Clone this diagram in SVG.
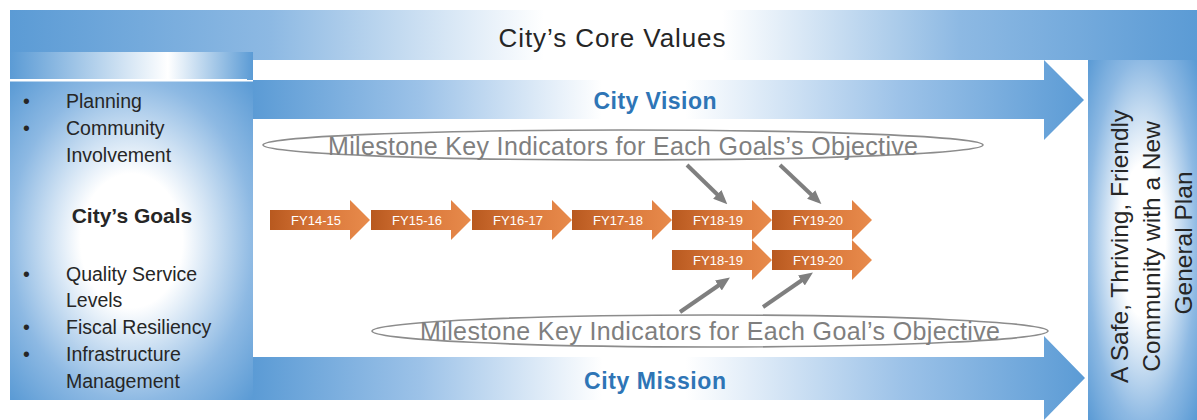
<svg xmlns="http://www.w3.org/2000/svg" width="1197" height="420" viewBox="0 0 1197 420">
<defs>
<linearGradient id="gTop" x1="0" y1="0" x2="1" y2="0">
<stop offset="0" stop-color="#5B9BD5"/><stop offset="0.22" stop-color="#8DB9E3"/><stop offset="0.45" stop-color="#FFFFFF"/><stop offset="0.6" stop-color="#FFFFFF"/><stop offset="0.8" stop-color="#8DB9E3"/><stop offset="1" stop-color="#5B9BD5"/>
</linearGradient>
<linearGradient id="gArrow" x1="0" y1="0" x2="1" y2="0">
<stop offset="0" stop-color="#5B9BD5"/><stop offset="0.2" stop-color="#9CC2E8"/><stop offset="0.42" stop-color="#FFFFFF"/><stop offset="0.52" stop-color="#FFFFFF"/><stop offset="0.78" stop-color="#9CC2E8"/><stop offset="1" stop-color="#5B9BD5"/>
</linearGradient>
<linearGradient id="gBand" x1="0" y1="0" x2="1" y2="0">
<stop offset="0" stop-color="#5B9BD5"/><stop offset="0.65" stop-color="#FFFFFF"/><stop offset="1" stop-color="#5B9BD5"/>
</linearGradient>
<radialGradient id="gPanel" cx="0.5" cy="0.5" r="0.7">
<stop offset="0" stop-color="#FFFFFF"/><stop offset="0.3" stop-color="#FFFFFF"/><stop offset="0.72" stop-color="#8DB9E3"/><stop offset="1" stop-color="#5B9BD5"/>
</radialGradient>
<linearGradient id="gOrange" x1="0" y1="0" x2="1" y2="0">
<stop offset="0" stop-color="#B8591F"/><stop offset="0.5" stop-color="#D9773A"/><stop offset="1" stop-color="#E88B4C"/>
</linearGradient>
<marker id="ah" markerUnits="userSpaceOnUse" markerWidth="14" markerHeight="12" refX="8" refY="6" orient="auto">
<path d="M0,0 L14,6 L0,12 z" fill="#7F7F7F"/>
</marker>
<style>
.lbl{font-family:"Liberation Sans",Arial,sans-serif;fill:#262626}
.side{font-size:19.5px}
.blue{font-family:"Liberation Sans",Arial,sans-serif;font-weight:bold;fill:#2E75B6;font-size:23px}
.ms{font-family:"Liberation Sans",Arial,sans-serif;fill:#7F7F7F;font-size:25px}
.ell{fill:#FFFFFF;stroke:#8C8C8C;stroke-width:1.6}
.fy{fill:url(#gOrange)}
.fyt{font-family:"Liberation Sans",Arial,sans-serif;fill:#FFFFFF;font-size:13px;text-anchor:middle}
.conn{stroke:#7F7F7F;stroke-width:4;fill:none;marker-end:url(#ah)}
</style>
</defs>
<rect width="1197" height="420" fill="#FFFFFF"/>

<g id="core-values">
<rect x="10" y="10" width="1187" height="50" fill="url(#gTop)"/>
<text class="lbl" x="612" y="47" font-size="26" text-anchor="middle" textLength="227">City’s Core Values</text>
</g>

<g id="city-vision">
<path d="M253,80 H1044 V60 L1084,100 L1044,140 V119 H253 Z" fill="url(#gArrow)"/>
<text class="blue" x="655" y="109" text-anchor="middle" textLength="123">City Vision</text>
</g>

<g id="city-mission">
<path d="M253,357 H1044 V336 L1085,378 L1044,420 V400 H253 Z" fill="url(#gArrow)"/>
<text class="blue" x="655" y="389" text-anchor="middle" textLength="142">City Mission</text>
</g>

<g id="city-goals">
<rect x="10" y="52" width="243" height="28" fill="url(#gBand)"/>
<rect x="10" y="79" width="237" height="2.5" fill="#FFFFFF"/>
<rect x="10" y="81.5" width="243" height="318.5" fill="url(#gPanel)"/>
<g class="lbl side">
<text x="23" y="108">•</text><text x="66" y="108">Planning</text>
<text x="23" y="135">•</text><text x="66" y="135">Community</text>
<text x="66" y="162">Involvement</text>
<text x="23" y="281">•</text><text x="66" y="281">Quality Service</text>
<text x="66" y="307">Levels</text>
<text x="23" y="334">•</text><text x="66" y="334">Fiscal Resiliency</text>
<text x="23" y="361">•</text><text x="66" y="361">Infrastructure</text>
<text x="66" y="388">Management</text>
</g>
<text class="lbl" x="132" y="223" font-size="21" font-weight="bold" text-anchor="middle">City’s Goals</text>
</g>

<g id="outcome">
<rect x="1088" y="60" width="109" height="360" fill="url(#gPanel)"/>
<text class="lbl" transform="rotate(-90)" font-size="24.5" text-anchor="middle">
<tspan x="-243" y="1128">A Safe, Thriving, Friendly</tspan>
<tspan x="-243" y="1160">Community with a New</tspan>
<tspan x="-243" y="1192">General Plan</tspan>
</text>
</g>

<g id="milestone-top">
<ellipse class="ell" cx="623" cy="145" rx="360" ry="15"/>
<text class="ms" x="623" y="155" text-anchor="middle" textLength="590">Milestone Key Indicators for Each Goals’s Objective</text>
</g>

<g id="milestone-bottom">
<ellipse class="ell" cx="710" cy="331" rx="338" ry="16"/>
<text class="ms" x="710" y="340" text-anchor="middle" textLength="580">Milestone Key Indicators for Each Goal’s Objective</text>
</g>

<g id="fy14-15"><path class="fy" d="M270,210 H350 V200 L370,220 L350,240 V230 H270 Z"/><text class="fyt" x="316" y="224.5">FY14-15</text></g>
<g id="fy15-16"><path class="fy" d="M371,210 H451 V200 L471,220 L451,240 V230 H371 Z"/><text class="fyt" x="417" y="224.5">FY15-16</text></g>
<g id="fy16-17"><path class="fy" d="M472,210 H552 V200 L572,220 L552,240 V230 H472 Z"/><text class="fyt" x="518" y="224.5">FY16-17</text></g>
<g id="fy17-18"><path class="fy" d="M572,210 H652 V200 L672,220 L652,240 V230 H572 Z"/><text class="fyt" x="618" y="224.5">FY17-18</text></g>
<g id="fy18-19-a"><path class="fy" d="M672,210 H752 V200 L772,220 L752,240 V230 H672 Z"/><text class="fyt" x="718" y="224.5">FY18-19</text></g>
<g id="fy19-20-a"><path class="fy" d="M772,210 H852 V200 L872,220 L852,240 V230 H772 Z"/><text class="fyt" x="818" y="224.5">FY19-20</text></g>
<g id="fy18-19-b"><path class="fy" d="M672,250 H752 V240 L772,260 L752,280 V270 H672 Z"/><text class="fyt" x="718" y="264.5">FY18-19</text></g>
<g id="fy19-20-b"><path class="fy" d="M772,250 H852 V240 L872,260 L852,280 V270 H772 Z"/><text class="fyt" x="818" y="264.5">FY19-20</text></g>

<g id="connectors">
<line class="conn" x1="687" y1="165" x2="723" y2="200"/>
<line class="conn" x1="780" y1="165" x2="817" y2="200"/>
<line class="conn" x1="680" y1="312" x2="725" y2="281"/>
<line class="conn" x1="763" y1="307" x2="808" y2="276"/>
</g>
</svg>
